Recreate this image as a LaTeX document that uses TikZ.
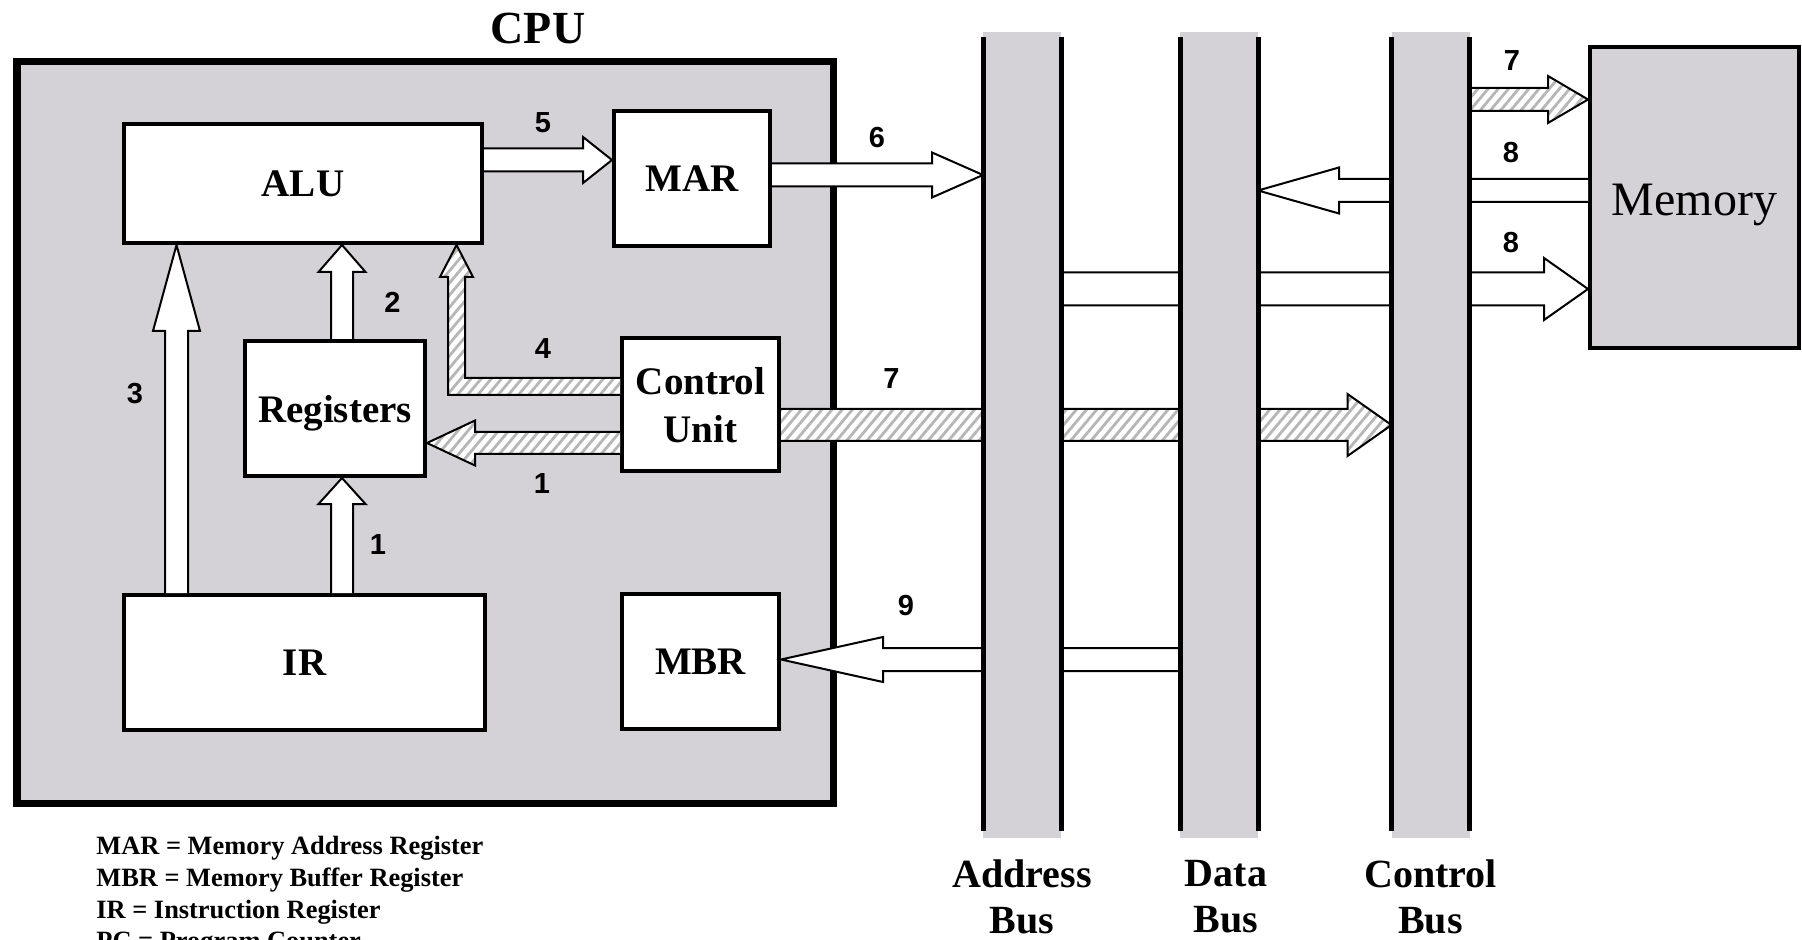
\documentclass[tikz,border=0pt]{standalone}
\usepackage{fontspec}
\setmainfont{Liberation Serif}
\newfontfamily\sansnum{Liberation Sans}
\usetikzlibrary{calc,patterns.meta}
\definecolor{cpugray}{RGB}{212,210,215}
\definecolor{hatchgray}{RGB}{182,182,182}
\pgfdeclarelayer{fg}
\pgfsetlayers{main,fg}
% #1 body style, #2 tail, #3 tip, #4 shaft half width, #5 head half width, #6 head length
\newcommand\blockarrow[6]{%
  \coordinate (ba-b) at ($(#3)!#6!(#2)$);
  \path[#1] ($(#2)!#4!90:(#3)$) -- ($(ba-b)!#4!90:(#3)$) -- ($(ba-b)!#5!90:(#3)$) -- (#3)
     -- ($(ba-b)!#5!-90:(#3)$) -- ($(ba-b)!#4!-90:(#3)$) -- ($(#2)!#4!-90:(#3)$) -- cycle;
  \draw[arrowline] ($(#2)!#4!90:(#3)$) -- ($(ba-b)!#4!90:(#3)$) -- ($(ba-b)!#5!90:(#3)$) -- (#3)
     -- ($(ba-b)!#5!-90:(#3)$) -- ($(ba-b)!#4!-90:(#3)$) -- ($(#2)!#4!-90:(#3)$);
}
\begin{document}
\begin{tikzpicture}[x=0.5pt,y=-0.5pt,
  cpubox/.style={draw, line width=3.75pt, fill=cpugray, inner sep=0pt},
  box/.style={draw, line width=2.2pt, fill=white, inner sep=0pt, align=center, text depth=0pt,
     font=\fontsize{19.5}{24}\selectfont\bfseries},
  membox/.style={draw, line width=2pt, fill=cpugray, inner sep=0pt},
  memlabel/.style={inner sep=0pt, font=\fontsize{24}{28}\selectfont},
  cpulabel/.style={inner sep=0pt, font=\fontsize{23}{28}\selectfont\bfseries},
  busfill/.style={fill=cpugray, draw=none, inner sep=0pt, outer sep=0pt, minimum width=39pt, minimum height=403pt},
  busline/.style={line width=2.5pt},
  buslabel/.style={inner sep=0pt, align=center, font=\fontsize{20}{23}\selectfont\bfseries},
  num/.style={inner sep=0pt, font=\sansnum\fontsize{14.5}{17}\selectfont\bfseries},
  legend/.style={inner sep=0pt, anchor=base west, font=\fontsize{13.2}{16}\selectfont\bfseries},
  arrowline/.style={line width=1pt, line join=miter},
  whitebody/.style={fill=white},
  hatched/.style={preaction={fill=white}, pattern={Lines[angle=50,distance=3.9pt,line width=1.4pt]}, pattern color=hatchgray}
]
\useasboundingbox (0,0) rectangle (1802,940);
\clip (0,0) rectangle (1802,940);

% CPU and its parts
\node[cpubox, minimum width=408.25pt, minimum height=370.75pt] (cpu) at (425,432.5) {};
\node[cpulabel] (cputxt) at (538,29) {CPU};
\node[box, minimum width=178.8pt, minimum height=59.3pt] (alu) at (303,183.5) {ALU};
\node[box, minimum width=77.8pt, minimum height=67.3pt] (mar) at (692,178.5) {MAR};
\node[box, minimum width=89.8pt, minimum height=67.3pt] (reg) at (335,408.5) {Registers};
\node[box, minimum width=78.3pt, minimum height=66.3pt] (cu) at (700.5,404.5) {Control\\Unit};
\node[box, minimum width=180.3pt, minimum height=67.3pt] (ir) at (304.5,662.5) {IR};
\node[box, minimum width=78.3pt, minimum height=67.3pt] (mbr) at (700.5,661.5) {MBR};

% Memory
\node[membox, minimum width=104.5pt, minimum height=150.5pt] (mem) at (1694.5,197.5) {};
\node[memlabel, anchor=base] (memtxt) at (1694.5,216) {Memory};

% Buses (on top of the arrows)
\begin{pgfonlayer}{fg}
\foreach \n/\x in {abus/1022, dbus/1219, cbus/1430.5} {
  \node[busfill] (\n) at (\x,435) {};
  \draw[busline] ($(\n.north west)+(0,5)$) -- ($(\n.south west)+(0,-7)$);
  \draw[busline] ($(\n.north east)+(0,5)$) -- ($(\n.south east)+(0,-7)$);
}
\end{pgfonlayer}
\node[buslabel] (abl) at (abus |- 0,896.5) {Address\\Bus};
\node[buslabel] (dbl) at ($(dbus |- 0,896.5)+(7,0)$) {Data\\Bus};
\node[buslabel] (cbl) at (cbus |- 0,896.5) {Control\\Bus};

% arrow end points
\coordinate (a5t) at ($(alu.east)+(0,-23.5)$);
\coordinate (a5p) at (mar.west |- a5t);
\coordinate (a6t) at ($(mar.east)+(0,-3.5)$);
\coordinate (a6p) at (abus.west |- a6t);
\coordinate (a2t) at ($(reg.north)+(7,0)$);
\coordinate (a2p) at (a2t |- alu.south);
\coordinate (a3t) at ($(ir.north west)+(54.5,0)$);
\coordinate (a3p) at (a3t |- alu.south);
\coordinate (a1vt) at ($(ir.north west)+(220,0)$);
\coordinate (a1vp) at (a1vt |- reg.south);
\coordinate (a1ht) at ($(cu.west)+(0,38.5)$);
\coordinate (a1hp) at (reg.east |- a1ht);
\coordinate (a7t) at ($(cu.east)+(0,20.5)$);
\coordinate (a7p) at (cbus.west |- a7t);
\coordinate (a7mp) at ($(mem.north west)+(0,54.5)$);
\coordinate (a7mt) at (cbus.east |- a7mp);
\coordinate (a8at) at ($(mem.north west)+(0,145.5)$);
\coordinate (a8ap) at (dbus.east |- a8at);
\coordinate (a8bp) at ($(mem.north west)+(0,244)$);
\coordinate (a8bt) at (abus.east |- a8bp);
\coordinate (a9p) at ($(mbr.east)+(0,-2)$);
\coordinate (a9t) at (dbus.west |- a9p);

% straight block arrows
\blockarrow{whitebody}{a5t}{a5p}{5.75pt}{11.5pt}{14.5pt}
\blockarrow{whitebody}{a6t}{a6p}{5.75pt}{11.25pt}{25.5pt}
\blockarrow{whitebody}{a2t}{a2p}{5.5pt}{11.75pt}{13.5pt}
\blockarrow{whitebody}{a3t}{a3p}{5.75pt}{11.75pt}{43pt}
\blockarrow{whitebody}{a1vt}{a1vp}{5.5pt}{11.75pt}{13pt}
\blockarrow{hatched}{a1ht}{a1hp}{5.5pt}{11.25pt}{24pt}
\blockarrow{hatched}{a7t}{a7p}{8pt}{15.5pt}{22pt}
\blockarrow{hatched}{a7mt}{a7mp}{5.75pt}{11.75pt}{20pt}
\blockarrow{whitebody}{a8at}{a8ap}{5.75pt}{11.5pt}{40.5pt}
\blockarrow{whitebody}{a8bt}{a8bp}{8.25pt}{15.5pt}{22pt}
\blockarrow{whitebody}{a9t}{a9p}{5.75pt}{11.25pt}{51pt}

% L-shaped hatched arrow 4
\coordinate (a4t) at ($(cu.west)+(0,-18)$);
\coordinate (a4p) at ($(alu.south east)+(-27.5,0)$);
\coordinate (a4c) at (a4p |- a4t);
\coordinate (a4b) at ($(a4p)+(0,32)$);
\path[hatched] ($(a4t)+(0,-8.5)$) -- ($(a4c)+(8.5,-8.5)$) -- ($(a4b)+(8.5,0)$) -- ($(a4b)+(16.5,0)$)
  -- (a4p) -- ($(a4b)+(-16.5,0)$) -- ($(a4b)+(-8.5,0)$) -- ($(a4c)+(-8.5,8.5)$) -- ($(a4t)+(0,8.5)$) -- cycle;
\draw[arrowline] ($(a4t)+(0,-8.5)$) -- ($(a4c)+(8.5,-8.5)$) -- ($(a4b)+(8.5,0)$) -- ($(a4b)+(16.5,0)$)
  -- (a4p) -- ($(a4b)+(-16.5,0)$) -- ($(a4b)+(-8.5,0)$) -- ($(a4c)+(-8.5,8.5)$) -- ($(a4t)+(0,8.5)$);

% step numbers
\node[num] (n5) at (543,122.5) {5};
\node[num] (n6) at (877,137.5) {6};
\node[num] (n2) at (392.5,302.5) {2};
\node[num] (n3) at (135,394) {3};
\node[num] (n4) at (543,349) {4};
\node[num] (n1h) at (542,484) {1};
\node[num] (n1v) at (378,545) {1};
\node[num] (n7a) at (891.5,378.5) {7};
\node[num] (n7b) at (1512,61) {7};
\node[num] (n8a) at (1511,153) {8};
\node[num] (n8b) at (1511,243) {8};
\node[num] (n9) at (906,606) {9};

% legend
\node[legend] (leg1) at (96,854) {MAR = Memory Address Register};
\node[legend] (leg2) at (96,886) {MBR = Memory Buffer Register};
\node[legend] (leg3) at (96,918) {IR = Instruction Register};
\node[legend] (leg4) at (96,949) {PC = Program Counter};
\end{tikzpicture}
\end{document}
